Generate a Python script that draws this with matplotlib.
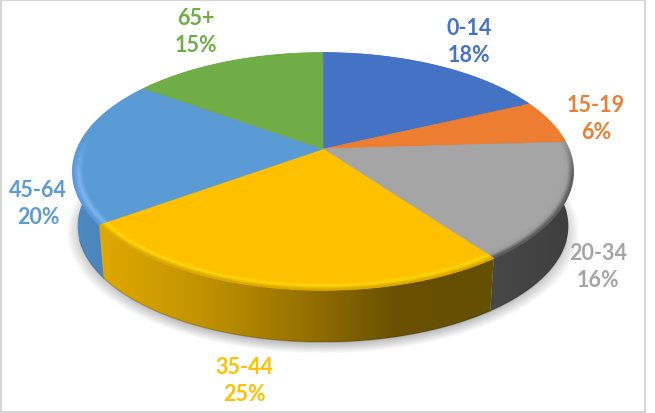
import numpy as np
import matplotlib
matplotlib.use('Agg')
import matplotlib.pyplot as plt
from matplotlib.collections import LineCollection
from matplotlib.colors import LinearSegmentedColormap, to_rgb
from matplotlib.patches import Polygon, Rectangle
from matplotlib.transforms import Transform

plt.rcParams['font.family'] = ['Lato', 'DejaVu Sans']

# Data
categories = ['0-14', '15-19', '20-34', '35-44', '45-64', '65+']
shares = [18, 6, 16, 25, 20, 15]

# Style per slice
colors = ['#4472C4', '#ED7D31', '#A5A5A5', '#FFC000', '#5B9BD5', '#70AD47']
wall_stops = [['#34589a', '#34589a'],
              ['#b05a20', '#b05a20'],
              ['#484848', '#3e3e3e'],
              ['#e0a900', '#c39400', '#9a7400', '#6a5100', '#635000'],
              ['#4f8ac4', '#467db3'],
              ['#4f7d32', '#4f7d32']]
rim_high = ['#4472C4', '#ED7D31', '#a0a0a0', '#FFD60A', '#7DB8F2', '#70AD47']
rim_edge = ['#4472C4', '#d06e2a', '#585858', '#dca800', '#5b9ad6', '#70AD47']
label_pos = [(469, 42), (596, 119), (598, 267), (244, 381), (38, 204), (196, 32)]

# Geometry of the tilted disc, in image pixels
cx, cy = 323, 150
a, b, k = 245.8, 114.2, 0.19
depth, bottom_scale = 55, 0.98


class Tilt(Transform):
    # perspective view of the unit disc
    input_dims = 2
    output_dims = 2
    is_separable = False
    has_inverse = False

    def transform_non_affine(self, values):
        values = np.asarray(values, dtype=float)
        w = 1 + k * values[:, 1]
        return np.column_stack([cx + a * values[:, 0] / w, cy - b * values[:, 1] / w])


tilt = Tilt()


def ring(theta_deg, r=1.0, scale=1.0, dy=0.0):
    t = np.radians(theta_deg)
    pts = tilt.transform_non_affine(np.column_stack([r * np.cos(t), r * np.sin(t)]))
    pts[:, 0] = cx + (pts[:, 0] - cx) * scale
    pts[:, 1] = cy + (pts[:, 1] - cy) * scale + dy
    return pts


fig = plt.figure(figsize=(6.55, 4.14), dpi=100)
ax = fig.add_axes([0, 0, 1, 1])
wedges, _ = ax.pie(shares, colors=colors, startangle=90, counterclock=False,
                   wedgeprops=dict(linewidth=0.4))
ax.set_aspect('auto')
ax.set_xlim(0, 655)
ax.set_ylim(414, 0)
ax.axis('off')

ax.add_patch(Rectangle((0.5, 0.5), 644.5, 412.5, fill=False, ec='#d6d6d6', lw=1.5, zorder=0))

# Soft shadow under the pie
circle = np.linspace(0, 360, 361)
for s in np.linspace(1.045, 0.98, 20):
    ax.add_patch(Polygon(ring(circle, scale=s * bottom_scale, dy=depth + 5), closed=True,
                         fc='black', ec='none', alpha=0.012, zorder=0.5))

for i, w in enumerate(wedges):
    w.set_transform(tilt + ax.transData)
    w.set_edgecolor(colors[i])
    w.set_zorder(3)

    # Side wall: gradient image clipped to the wall outline
    theta = np.linspace(w.theta1, w.theta2, 150)
    top = ring(theta)
    bottom = ring(theta, scale=bottom_scale, dy=depth)
    outline = Polygon(np.vstack([top, bottom[::-1]]), closed=True, fc='none', ec='none',
                      transform=ax.transData)
    ax.add_patch(outline)
    cmap = LinearSegmentedColormap.from_list('wall', wall_stops[i])
    x0 = min(top[:, 0].min(), bottom[:, 0].min())
    x1 = max(top[:, 0].max(), bottom[:, 0].max())
    y0 = min(top[:, 1].min(), bottom[:, 1].min())
    y1 = max(top[:, 1].max(), bottom[:, 1].max())
    im = ax.imshow(np.linspace(0, 1, 256)[None, :], cmap=cmap, aspect='auto',
                   extent=[x0, x1, y1, y0], zorder=2, interpolation='bilinear')
    im.set_clip_path(outline)

    # dark thin line at the foot of the wall
    front = np.sin(np.radians(theta)) < -0.3
    ax.plot(bottom[front, 0], bottom[front, 1], color='black', alpha=0.18, lw=1.0, zorder=2.5)

    # Bevel along the rim, fades out towards the back of the disc
    base = np.array(to_rgb(colors[i]))
    high = np.array(to_rgb(rim_high[i]))
    edge = np.array(to_rgb(rim_edge[i]))
    fade = np.clip((0.12 - np.sin(np.radians(theta))) / 0.35, 0, 1)[:-1, None]
    for r in np.linspace(0.96, 0.999, 14):
        p = ring(theta, r=r)
        segs = np.stack([p[:-1], p[1:]], axis=1)
        f = (r - 0.96) / 0.039
        if f < 0.5:
            c = base + (high - base) * (f / 0.5)
        else:
            c = high + (edge - high) * ((f - 0.5) / 0.5)
        rgb = np.clip(base + (c - base) * fade, 0, 1)
        ax.add_collection(LineCollection(segs, colors=rgb, linewidths=1.3, zorder=4,
                                         capstyle='butt'))

ax.set_xlim(0, 655)
ax.set_ylim(414, 0)

# Labels
for cat, val, col, (x, y) in zip(categories, shares, colors, label_pos):
    ax.text(x, y, f'{cat}\n{val}%', color=col, fontsize=15.5, fontweight='bold',
            ha='center', va='center', linespacing=1.38, zorder=6)

fig.savefig('out.png', dpi=100)
